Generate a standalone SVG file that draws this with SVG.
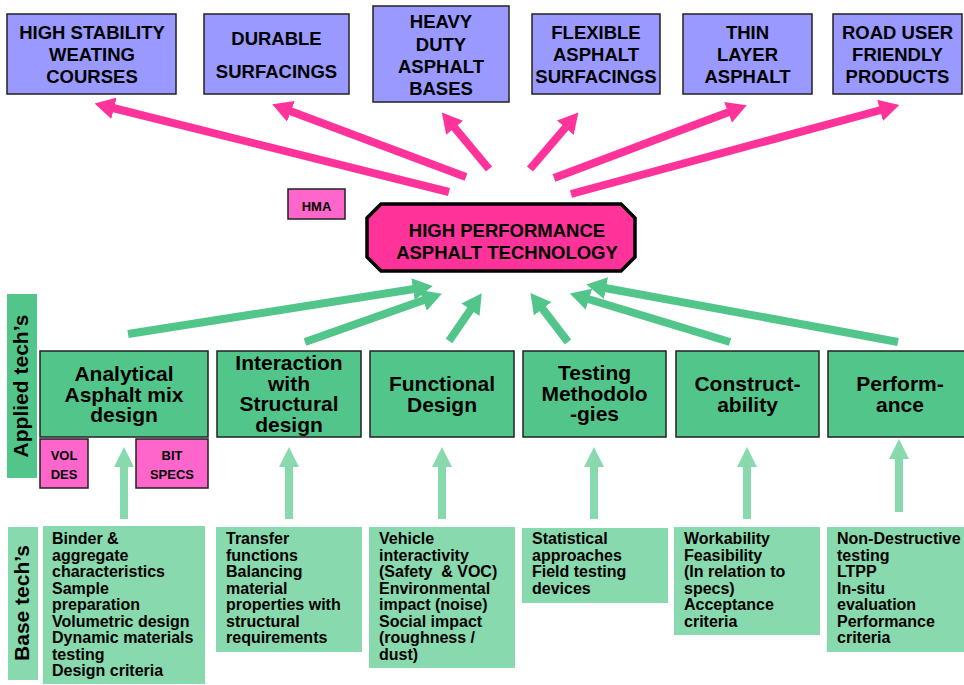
<svg xmlns="http://www.w3.org/2000/svg" width="964" height="685" viewBox="0 0 964 685">
  <style>
    text { font-family: "Liberation Sans", Arial, sans-serif; font-weight: bold; fill: #000; }
    .goal { fill: #9999FF; stroke: #222; stroke-width: 1.5; }
    .app { fill: #52C68A; stroke: #222; stroke-width: 1.5; }
    .tag { fill: #FF66CC; stroke: #222; stroke-width: 1.5; }
    .base { fill: #88D9AD; }
    .side { fill: #52C68A; }
    .sideb { fill: #88D9AD; }
    .t18 { font-size: 18.5px; text-anchor: middle; }
    .t21 { font-size: 21px; text-anchor: middle; }
    .t13 { font-size: 13px; text-anchor: middle; }
    .t16 { font-size: 16px; }
    .pink { stroke: #FF3399; stroke-width: 8; fill: none; marker-end: url(#hp); }
    .green { stroke: #52C68A; stroke-width: 8; fill: none; marker-end: url(#hg); }
    .lgreen { stroke: #88D9AD; stroke-width: 8; fill: none; marker-end: url(#hl); }
  </style>
  <defs>
    <marker id="hp" markerUnits="userSpaceOnUse" markerWidth="20" markerHeight="22" refX="1" refY="11" orient="auto">
      <path d="M0,0 L20,11 L0,22 z" fill="#FF3399"/>
    </marker>
    <marker id="hg" markerUnits="userSpaceOnUse" markerWidth="20" markerHeight="22" refX="1" refY="11" orient="auto">
      <path d="M0,0 L20,11 L0,22 z" fill="#52C68A"/>
    </marker>
    <marker id="hl" markerUnits="userSpaceOnUse" markerWidth="20" markerHeight="20" refX="1" refY="10" orient="auto">
      <path d="M0,0 L20,10 L0,20 z" fill="#88D9AD"/>
    </marker>
  </defs>

  <!-- connectors -->
  <g id="connectors">
    <!-- core technology to product groups -->
    <line class="pink" x1="449" y1="192" x2="113" y2="108"/>
    <line class="pink" x1="466" y1="177" x2="290" y2="111"/>
    <line class="pink" x1="489" y1="169" x2="454" y2="127"/>
    <line class="pink" x1="530" y1="169" x2="566" y2="127"/>
    <line class="pink" x1="554" y1="178" x2="729" y2="112"/>
    <line class="pink" x1="571" y1="194" x2="881" y2="110"/>
    <!-- applied technologies to core technology -->
    <line class="green" x1="128" y1="334" x2="414" y2="289"/>
    <line class="green" x1="305" y1="342" x2="424" y2="300"/>
    <line class="green" x1="449" y1="341" x2="471" y2="309"/>
    <line class="green" x1="568" y1="342" x2="542" y2="308"/>
    <line class="green" x1="730" y1="342" x2="588" y2="299"/>
    <line class="green" x1="898" y1="342" x2="605" y2="288"/>
    <!-- base technologies to applied technologies -->
    <line class="lgreen" x1="124" y1="519" x2="124" y2="466"/>
    <line class="lgreen" x1="289" y1="519" x2="289" y2="466"/>
    <line class="lgreen" x1="442" y1="519" x2="442" y2="466"/>
    <line class="lgreen" x1="594" y1="519" x2="594" y2="466"/>
    <line class="lgreen" x1="747" y1="519" x2="747" y2="466"/>
    <line class="lgreen" x1="899" y1="512" x2="899" y2="458"/>
  </g>

  <!-- product groups -->
  <g id="hsw">
    <rect class="goal" x="7" y="14" width="169" height="80"/>
    <text class="t18"><tspan x="92" y="39">HIGH STABILITY</tspan><tspan x="92" y="61">WEATING</tspan><tspan x="92" y="83">COURSES</tspan></text>
  </g>
  <g id="durable">
    <rect class="goal" x="204" y="14" width="145" height="80"/>
    <text class="t18"><tspan x="276.5" y="45">DURABLE</tspan><tspan x="276.5" y="78">SURFACINGS</tspan></text>
  </g>
  <g id="heavy">
    <rect class="goal" x="373" y="6" width="136" height="96"/>
    <text class="t18"><tspan x="441" y="28">HEAVY</tspan><tspan x="441" y="51">DUTY</tspan><tspan x="441" y="73">ASPHALT</tspan><tspan x="441" y="95">BASES</tspan></text>
  </g>
  <g id="flexible">
    <rect class="goal" x="532" y="14" width="128" height="80"/>
    <text class="t18"><tspan x="596" y="39">FLEXIBLE</tspan><tspan x="596" y="61">ASPHALT</tspan><tspan x="596" y="83">SURFACINGS</tspan></text>
  </g>
  <g id="thin">
    <rect class="goal" x="683" y="14" width="129" height="80"/>
    <text class="t18"><tspan x="747.5" y="39">THIN</tspan><tspan x="747.5" y="61">LAYER</tspan><tspan x="747.5" y="83">ASPHALT</tspan></text>
  </g>
  <g id="roaduser">
    <rect class="goal" x="833" y="14" width="129" height="80"/>
    <text class="t18"><tspan x="897.5" y="39">ROAD USER</tspan><tspan x="897.5" y="61">FRIENDLY</tspan><tspan x="897.5" y="83">PRODUCTS</tspan></text>
  </g>

  <!-- core technology -->
  <g id="hma">
    <rect class="tag" x="288" y="189" width="57" height="30"/>
    <text class="t13" x="316.5" y="211">HMA</text>
  </g>
  <g id="core">
    <polygon points="381,204 621,204 635,218 635,257 621,271 381,271 367,257 367,218" fill="#FF3399" stroke="#000" stroke-width="3.5"/>
    <text class="t18"><tspan x="507" y="237">HIGH PERFORMANCE</tspan><tspan x="507" y="259">ASPHALT TECHNOLOGY</tspan></text>
  </g>

  <!-- row labels -->
  <g id="applied-label">
    <rect class="side" x="7" y="294" width="30" height="184"/>
    <text transform="translate(28,386) rotate(-90)" font-size="21" text-anchor="middle">Applied tech’s</text>
  </g>
  <g id="base-label">
    <rect class="sideb" x="8" y="527" width="30" height="153"/>
    <text transform="translate(29,603) rotate(-90)" font-size="21" text-anchor="middle">Base tech’s</text>
  </g>

  <!-- applied technologies -->
  <g id="analytical">
    <rect class="app" x="40" y="351" width="168" height="86"/>
    <text class="t21"><tspan x="124" y="381">Analytical</tspan><tspan x="124" y="401.5">Asphalt mix</tspan><tspan x="124" y="422">design</tspan></text>
  </g>
  <g id="voldes">
    <rect class="tag" x="40" y="439" width="48" height="49"/>
    <text class="t13"><tspan x="64" y="460">VOL</tspan><tspan x="64" y="479">DES</tspan></text>
  </g>
  <g id="bitspecs">
    <rect class="tag" x="136" y="439" width="72" height="49"/>
    <text class="t13"><tspan x="172" y="460">BIT</tspan><tspan x="172" y="479">SPECS</tspan></text>
  </g>
  <g id="interaction">
    <rect class="app" x="217" y="351" width="144" height="86"/>
    <text class="t21"><tspan x="289" y="370">Interaction</tspan><tspan x="289" y="390.5">with</tspan><tspan x="289" y="411">Structural</tspan><tspan x="289" y="431.5">design</tspan></text>
  </g>
  <g id="functional">
    <rect class="app" x="370" y="351" width="144" height="86"/>
    <text class="t21"><tspan x="442" y="391">Functional</tspan><tspan x="442" y="411.5">Design</tspan></text>
  </g>
  <g id="testing">
    <rect class="app" x="523" y="351" width="143" height="86"/>
    <text class="t21"><tspan x="594.5" y="380">Testing</tspan><tspan x="594.5" y="400.5">Methodolo</tspan><tspan x="594.5" y="421">-gies</tspan></text>
  </g>
  <g id="constructability">
    <rect class="app" x="676" y="351" width="143" height="86"/>
    <text class="t21"><tspan x="747.5" y="391">Construct-</tspan><tspan x="747.5" y="411.5">ability</tspan></text>
  </g>
  <g id="performance">
    <rect class="app" x="828" y="351" width="144" height="86"/>
    <text class="t21"><tspan x="900" y="391">Perform-</tspan><tspan x="900" y="411.5">ance</tspan></text>
  </g>

  <!-- base technologies -->
  <g id="base-mix">
    <rect class="base" x="43" y="526" width="162" height="158"/>
    <text class="t16"><tspan x="52" y="544">Binder &amp;</tspan><tspan x="52" dy="16.5">aggregate</tspan><tspan x="52" dy="16.5">characteristics</tspan><tspan x="52" dy="16.5">Sample</tspan><tspan x="52" dy="16.5">preparation</tspan><tspan x="52" dy="16.5">Volumetric design</tspan><tspan x="52" dy="16.5">Dynamic materials</tspan><tspan x="52" dy="16.5">testing</tspan><tspan x="52" dy="16.5">Design criteria</tspan></text>
  </g>
  <g id="base-structural">
    <rect class="base" x="216" y="527" width="146" height="125"/>
    <text class="t16"><tspan x="226" y="544">Transfer</tspan><tspan x="226" dy="16.5">functions</tspan><tspan x="226" dy="16.5">Balancing</tspan><tspan x="226" dy="16.5">material</tspan><tspan x="226" dy="16.5">properties with</tspan><tspan x="226" dy="16.5">structural</tspan><tspan x="226" dy="16.5">requirements</tspan></text>
  </g>
  <g id="base-functional">
    <rect class="base" x="369" y="527" width="146" height="141"/>
    <text class="t16"><tspan x="379" y="544">Vehicle</tspan><tspan x="379" dy="16.5">interactivity</tspan><tspan x="379" dy="16.5">(Safety &#160;&amp; VOC)</tspan><tspan x="379" dy="16.5">Environmental</tspan><tspan x="379" dy="16.5">impact (noise)</tspan><tspan x="379" dy="16.5">Social impact</tspan><tspan x="379" dy="16.5">(roughness /</tspan><tspan x="379" dy="16.5">dust)</tspan></text>
  </g>
  <g id="base-testing">
    <rect class="base" x="522" y="528" width="146" height="75"/>
    <text class="t16"><tspan x="532" y="544">Statistical</tspan><tspan x="532" dy="16.5">approaches</tspan><tspan x="532" dy="16.5">Field testing</tspan><tspan x="532" dy="16.5">devices</tspan></text>
  </g>
  <g id="base-construct">
    <rect class="base" x="674" y="527" width="146" height="108"/>
    <text class="t16"><tspan x="684" y="544">Workability</tspan><tspan x="684" dy="16.5">Feasibility</tspan><tspan x="684" dy="16.5">(In relation to</tspan><tspan x="684" dy="16.5">specs)</tspan><tspan x="684" dy="16.5">Acceptance</tspan><tspan x="684" dy="16.5">criteria</tspan></text>
  </g>
  <g id="base-performance">
    <rect class="base" x="827" y="527" width="140" height="125"/>
    <text class="t16"><tspan x="837" y="544">Non-Destructive</tspan><tspan x="837" dy="16.5">testing</tspan><tspan x="837" dy="16.5">LTPP</tspan><tspan x="837" dy="16.5">In-situ</tspan><tspan x="837" dy="16.5">evaluation</tspan><tspan x="837" dy="16.5">Performance</tspan><tspan x="837" dy="16.5">criteria</tspan></text>
  </g>
</svg>
